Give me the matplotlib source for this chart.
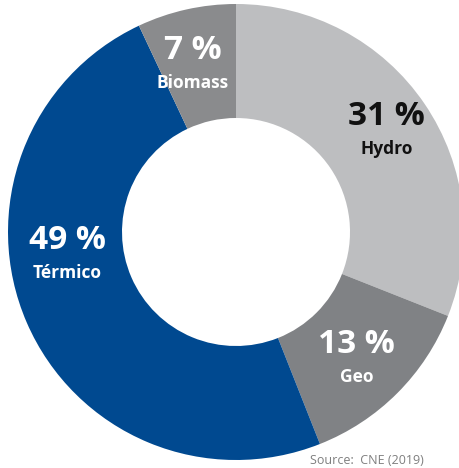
import numpy as np
import matplotlib.pyplot as plt

# Datos
fuentes = ['Hydro', 'Geo', 'Térmico', 'Biomass']
porcentajes = [31, 13, 49, 7]
colores = ['#bdbec0', '#808285', '#004990', '#8a8b8d']
color_texto = ['#111111', 'white', 'white', 'white']

fig = plt.figure(figsize=(4.59, 4.68), dpi=100)
ax = fig.add_axes([0, 0, 1, 1])

wedges, _ = ax.pie(porcentajes, colors=colores, startangle=90, counterclock=False,
                   radius=1.0, wedgeprops=dict(width=0.5, edgecolor='none'))

R = 228.0  # radio exterior en pixeles
cx, cy = 236.0, 232.0
ax.set_aspect('auto')
ax.set_xlim(-cx / R, (459 - cx) / R)
ax.set_ylim(-(468 - cy) / R, cy / R)
ax.axis('off')

# posiciones de las etiquetas (angulo en grados, radio)
pos_etiquetas = [(32, 0.78), (-48, 0.79), (190, 0.75), (105, 0.73)]

for nombre, pct, col, (ang, r) in zip(fuentes, porcentajes, color_texto, pos_etiquetas):
    x = r * np.cos(np.radians(ang))
    y = r * np.sin(np.radians(ang))
    ax.text(x, y + 0.02, f'{pct} %', ha='center', va='bottom', fontsize=24,
            fontweight='bold', color=col, family='Open Sans')
    ax.text(x, y - 0.01, nombre, ha='center', va='top', fontsize=12.5,
            fontweight='bold', color=col, family='Open Sans')

fig.text(310 / 459, 1 / 468, 'Source:  CNE (2019)', ha='left', va='bottom',
         fontsize=9, color='#7f7f7f', family='Open Sans')

fig.savefig('out.png', dpi=100)
